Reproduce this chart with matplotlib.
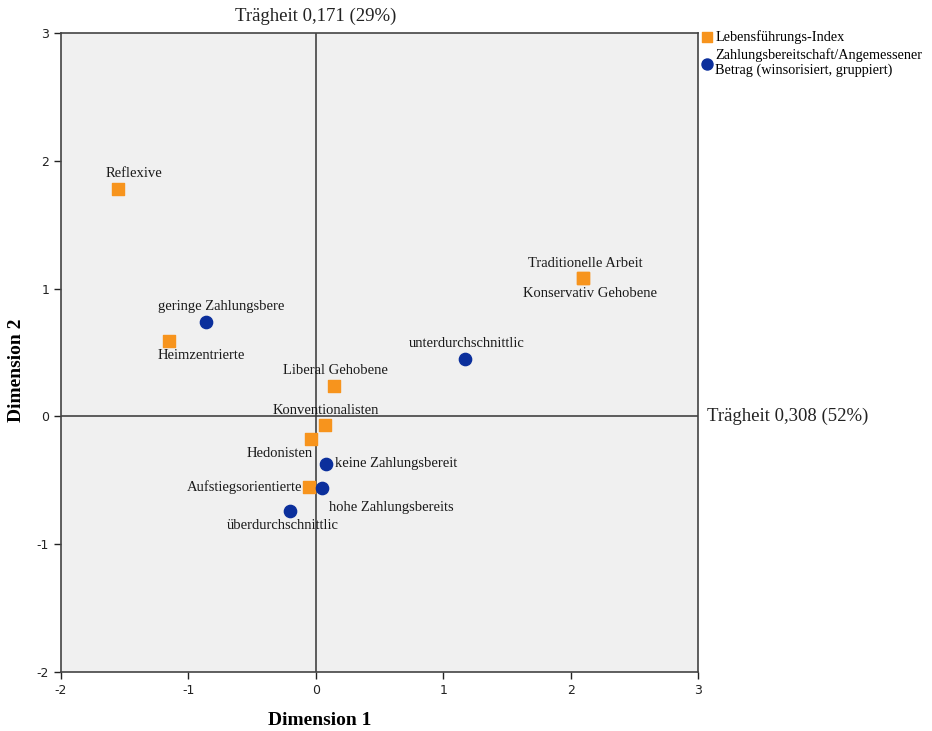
import matplotlib.pyplot as plt

# Lebensführungs-Index (Spaltenpunkte)
lifestyle_names = ["Reflexive", "Heimzentrierte", "Traditionelle Arbeit", "Konservativ Gehobene",
                   "Liberal Gehobene", "Konventionalisten", "Hedonisten", "Aufstiegsorientierte"]
lifestyle_x = [-1.55, -1.15, 2.10, 2.10, 0.14, 0.07, -0.04, -0.05]
lifestyle_y = [1.78, 0.59, 1.08, 1.08, 0.24, -0.07, -0.18, -0.55]

# Zahlungsbereitschaft / angemessener Betrag (Zeilenpunkte)
payment_names = ["geringe Zahlungsbere", "unterdurchschnittlic", "keine Zahlungsbereit",
                 "hohe Zahlungsbereits", "überdurchschnittlic"]
payment_x = [-0.86, 1.17, 0.08, 0.05, -0.20]
payment_y = [0.74, 0.45, -0.37, -0.56, -0.74]

inertia_dim1 = "Trägheit 0,308 (52%)"
inertia_dim2 = "Trägheit 0,171 (29%)"

# label placement in pixels relative to the point: (dx, dy, ha)
lifestyle_offsets = [(16, 15, "center"), (32, -15, "center"), (2, 15, "center"), (7, -15, "center"),
                     (2, 15, "center"), (1, 15, "center"), (-31, -14, "center"), (-7, 0, "right")]
payment_offsets = [(15, 15, "center"), (2, 15, "center"), (9, 0, "left"),
                   (7, -20, "left"), (-8, -15, "center")]

ORANGE = "#F7941D"
BLUE = "#0B2F9C"
SERIF = "Liberation Serif"


def main():
    plt.rcParams["axes.unicode_minus"] = False
    fig = plt.figure(figsize=(9.32, 7.31), dpi=100)
    ax = fig.add_axes([0.0655, 0.0807, 0.6835, 0.8742])
    ax.set_facecolor("#F0F0F0")

    ax.set_xlim(-2, 3)
    ax.set_ylim(-2, 3)
    ax.set_xticks(range(-2, 4))
    ax.set_yticks(range(-2, 4))
    ax.tick_params(direction="out", length=5, width=1, labelsize=9, colors="#222222")
    for sp in ax.spines.values():
        sp.set_color("#444444")
        sp.set_linewidth(1.2)

    ax.axhline(0, color="#333333", lw=1.1, zorder=1)
    ax.axvline(0, color="#333333", lw=1.1, zorder=1)

    ax.scatter(lifestyle_x, lifestyle_y, marker="s", s=72, color=ORANGE, zorder=3,
               label="Lebensführungs-Index")
    ax.scatter(payment_x, payment_y, marker="o", s=78, color=BLUE, zorder=3,
               label="Zahlungsbereitschaft/Angemessener\nBetrag (winsorisiert, gruppiert)")

    for name, x, y, (dx, dy, ha) in zip(lifestyle_names, lifestyle_x, lifestyle_y, lifestyle_offsets):
        ax.annotate(name, (x, y), xytext=(dx, dy), textcoords="offset pixels",
                    ha=ha, va="center", fontsize=10.5, family=SERIF, color="#1a1a1a")
    for name, x, y, (dx, dy, ha) in zip(payment_names, payment_x, payment_y, payment_offsets):
        ax.annotate(name, (x, y), xytext=(dx, dy), textcoords="offset pixels",
                    ha=ha, va="center", fontsize=10.5, family=SERIF, color="#1a1a1a")

    ax.annotate(inertia_dim2, (0, 3), xytext=(0, 17), textcoords="offset pixels",
                ha="center", va="center", fontsize=13.5, family=SERIF, color="#222222",
                annotation_clip=False)
    ax.annotate(inertia_dim1, (3, 0), xytext=(9, 0), textcoords="offset pixels",
                ha="left", va="center", fontsize=13.5, family=SERIF, color="#222222",
                annotation_clip=False)

    ax.set_xlabel("Dimension 1", fontsize=14, fontweight="bold", family=SERIF)
    ax.set_ylabel("Dimension 2", fontsize=14, fontweight="bold", family=SERIF)
    ax.xaxis.set_label_coords(0.4066, -0.063)
    ax.yaxis.set_label_coords(-0.057, 0.4726)

    ax.legend(loc="upper left", bbox_to_anchor=(0.99, 1.018), frameon=False,
              prop={"family": SERIF, "size": 10.3}, handletextpad=0.05,
              handlelength=1.0, borderaxespad=0.2, labelspacing=0.3, markerscale=0.9)

    fig.savefig("out.png", dpi=100)


if __name__ == "__main__":
    main()
